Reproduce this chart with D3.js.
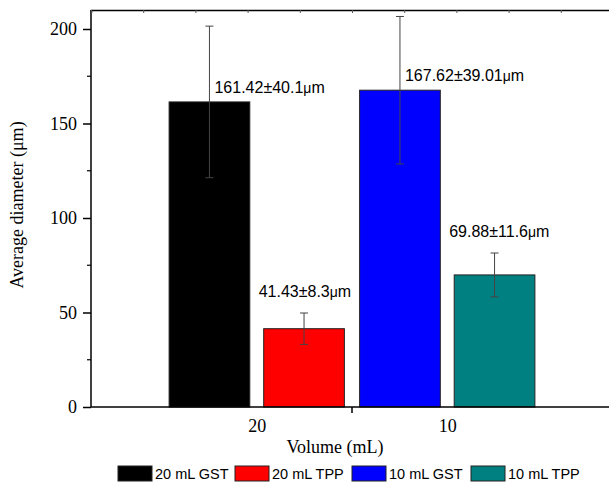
<!DOCTYPE html>
<html>
<head>
<script src="https://d3js.org/d3.v7.min.js"></script>
<style>
body { margin: 0; background: #fff; }
</style>
</head>
<body>
<script>
// data
var groups = ["20", "10"];
var series = ["GST", "TPP"];
var means = [[161.42, 41.43], [167.62, 69.88]];
var errs = [[40.1, 8.3], [39.01, 11.6]];
var labels = [["161.42±40.1", "41.43±8.3"], ["167.62±39.01", "69.88±11.6"]];
var legendNames = ["20 mL GST", "20 mL TPP", "10 mL GST", "10 mL TPP"];
var colors = [["#000000", "#ff0000"], ["#0000ff", "#008080"]];
var yTicks = [0, 50, 100, 150, 200];

var W = 609, H = 483;
var mLeft = 91, mRight = 613, mTop = 10, mBottom = 407;
var serif = "Liberation Serif, Times New Roman, serif";
var sans = "Liberation Sans, Arial, sans-serif";

var svg = d3.select("body").append("svg")
    .attr("width", W).attr("height", H);

var x = d3.scaleLinear().domain([0.13, 2.87]).range([mLeft, mRight]);
var y = d3.scaleLinear().domain([0, 200]).range([mBottom, 29]);

var groupW = x(0.92) - x(0);
var sub = d3.scaleBand().domain(series).range([-groupW / 2, groupW / 2]).paddingInner(0.147);

var plot = svg.append("g");

// bars, error bars, value labels
groups.forEach(function(g, gi) {
  series.forEach(function(s, si) {
    var cx = x(gi + 1) + sub(s);
    var bw = sub.bandwidth();
    var v = means[gi][si], e = errs[gi][si];
    plot.append("rect")
      .attr("x", cx).attr("y", y(v))
      .attr("width", bw).attr("height", y(0) - y(v))
      .attr("fill", colors[gi][si])
      .attr("stroke", "#222").attr("stroke-width", 1);
    var mx = cx + bw / 2;
    var eb = plot.append("g").attr("stroke", "#444").attr("stroke-width", 1);
    eb.append("line").attr("x1", mx).attr("x2", mx).attr("y1", y(v + e)).attr("y2", y(v - e));
    eb.append("line").attr("x1", mx - 4).attr("x2", mx + 4).attr("y1", y(v + e)).attr("y2", y(v + e));
    eb.append("line").attr("x1", mx - 4).attr("x2", mx + 4).attr("y1", y(v - e)).attr("y2", y(v - e));
    var t = plot.append("text")
      .attr("x", si == 0 ? mx + 5 : cx - 5)
      .attr("y", si == 0 ? y(v) - 9 : y(v + e) - 16)
      .attr("font-family", sans)
      .attr("font-size", 16).attr("fill", "#000");
    t.append("tspan").text(labels[gi][si]);
    t.append("tspan").attr("font-size", 14).text("μ");
    t.append("tspan").text("m");
  });
});

// left axis
var yAxis = d3.axisLeft(y).tickValues(yTicks).tickSize(8).tickPadding(6);
var ya = svg.append("g").attr("transform", "translate(" + mLeft + ",0)").call(yAxis);
ya.select(".domain").remove();
ya.append("line").attr("x1", 0).attr("x2", 0).attr("y1", mTop).attr("y2", mBottom)
  .attr("stroke", "#000").attr("stroke-width", 1.5);
ya.selectAll(".tick line").attr("stroke-width", 1.5);
ya.selectAll(".tick text").attr("font-family", serif)
  .attr("font-size", 18).attr("fill", "#000");
ya.selectAll(".minor").data([25, 75, 125, 175]).enter().append("line")
  .attr("x1", -4).attr("x2", 0).attr("y1", d => y(d)).attr("y2", d => y(d))
  .attr("stroke", "#000").attr("stroke-width", 1.2);

// bottom axis
var xAxis = d3.axisBottom(x).tickValues([1, 2]).tickSize(0).tickPadding(12)
  .tickFormat(function(d) { return groups[d - 1]; });
var xa = svg.append("g").attr("transform", "translate(0," + mBottom + ")").call(xAxis);
xa.select(".domain").remove();
xa.append("line").attr("x1", mLeft).attr("x2", mRight).attr("y1", 0).attr("y2", 0)
  .attr("stroke", "#000").attr("stroke-width", 1.5);
xa.append("line").attr("x1", x(1.5)).attr("x2", x(1.5)).attr("y1", 0).attr("y2", 6)
  .attr("stroke", "#000").attr("stroke-width", 1.5);
xa.selectAll(".tick text").attr("font-family", serif)
  .attr("font-size", 18).attr("fill", "#000");

// top axis
var xt = d3.scaleLinear().domain([0, 10]).range([mLeft, mRight]);
var ta = svg.append("g").attr("transform", "translate(0," + mTop + ")")
  .call(d3.axisTop(xt).ticks(10).tickSize(-3).tickFormat(""));
ta.select(".domain").attr("stroke-width", 1.5);
ta.selectAll(".tick line").attr("stroke", "#555");

// axis titles
svg.append("text")
  .attr("transform", "translate(23,205) rotate(-90)")
  .attr("text-anchor", "middle")
  .attr("font-family", serif)
  .attr("font-size", 18).text("Average diameter (μm)");
svg.append("text")
  .attr("x", 335).attr("y", 453).attr("text-anchor", "middle")
  .attr("font-family", serif)
  .attr("font-size", 18).text("Volume (mL)");

// legend
var legX = [118, 235, 352, 471];
var flat = [colors[0][0], colors[0][1], colors[1][0], colors[1][1]];
var leg = svg.append("g");
legendNames.forEach(function(n, i) {
  leg.append("rect").attr("x", legX[i]).attr("y", 466).attr("width", 34).attr("height", 15)
    .attr("fill", flat[i]).attr("stroke", "#222").attr("stroke-width", 1);
  leg.append("text").attr("x", legX[i] + 37).attr("y", 479)
    .attr("font-family", sans)
    .attr("font-size", 14.5).text(n);
});
</script>
</body>
</html>
